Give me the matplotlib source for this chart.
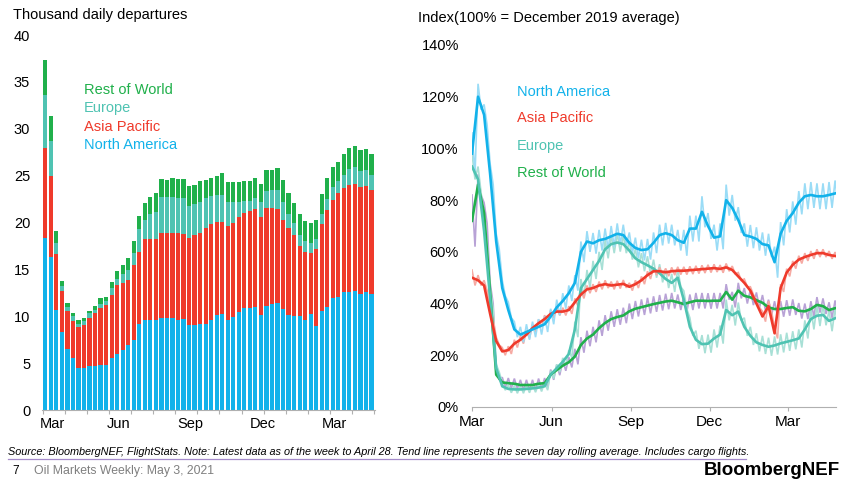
import matplotlib
matplotlib.use("Agg")
import matplotlib.pyplot as plt
import numpy as np
from matplotlib.lines import Line2D

plt.rcParams["font.family"] = ["Liberation Sans", "DejaVu Sans"]

NA_C, AP_C, EU_C, ROW_C = "#12b2ea", "#ef3a2b", "#4fc3b2", "#20b04b"
NA_RAW, AP_RAW, EU_RAW, ROW_RAW = "#9adcf6", "#f6aaa3", "#a8e0d6", "#b8a2d6"
AXIS_C = "#b0b0b0"

# ---- left panel: weekly departures, thousand per day (stacked) ----
na_dep = [18.3, 16.3, 10.7, 8.3, 6.5, 5.5, 4.5, 4.5, 4.7, 4.7,
          4.8, 4.8, 5.5, 6.0, 6.4, 6.9, 7.5, 9.2, 9.6, 9.6,
          9.6, 9.8, 9.8, 9.8, 9.65, 9.7, 9.1, 9.1, 9.2, 9.2,
          9.65, 10.1, 10.2, 9.6, 9.9, 10.5, 10.9, 10.9, 11.0, 10.1,
          11.1, 11.3, 11.4, 10.8, 10.1, 10.0, 10.0, 9.65, 10.2, 9.0,
          10.55, 11.0, 11.9, 12.1, 12.6, 12.6, 12.7, 12.4, 12.6, 12.4]
ap_dep = [9.7, 8.7, 5.9, 4.4, 4.1, 4.05, 4.4, 4.6, 5.1, 5.6,
          6.1, 6.4, 6.8, 7.3, 7.1, 7.0, 8.0, 7.7, 8.6, 8.6,
          8.6, 9.1, 9.1, 9.1, 9.25, 9.1, 9.2, 9.6, 9.7, 10.2,
          10.15, 10.0, 9.9, 10.0, 10.0, 10.05, 10.1, 10.3, 10.4, 10.5,
          10.4, 10.3, 10.0, 9.5, 9.3, 8.7, 7.5, 7.25, 6.5, 8.2,
          9.25, 10.3, 10.5, 11.1, 11.1, 11.4, 11.4, 11.4, 11.3, 11.1]
eu_dep = [5.6, 3.7, 1.2, 0.5, 0.4, 0.45, 0.3, 0.4, 0.5, 0.4,
          0.4, 0.4, 0.7, 0.7, 1.0, 1.0, 1.2, 2.4, 2.1, 2.7,
          2.9, 3.8, 3.8, 3.8, 3.7, 3.8, 3.5, 3.3, 3.3, 3.2,
          3.0, 2.8, 2.8, 2.6, 2.3, 1.65, 1.3, 1.1, 1.2, 1.6,
          1.9, 1.9, 2.1, 1.9, 1.5, 1.2, 1.2, 1.1, 1.1, 1.0,
          1.1, 1.2, 1.4, 1.2, 1.4, 1.7, 1.8, 1.75, 1.7, 1.6]
row_dep = [3.7, 2.7, 1.3, 0.6, 0.4, 0.3, 0.4, 0.3, 0.3, 0.4,
           0.6, 0.45, 0.7, 0.8, 1.0, 1.3, 1.3, 1.4, 1.8, 1.8,
           2.0, 1.9, 1.8, 2.1, 2.0, 2.0, 2.1, 2.0, 2.2, 1.95,
           2.0, 2.1, 2.4, 2.1, 2.1, 2.1, 2.1, 2.1, 2.1, 1.9,
           2.2, 2.1, 2.3, 2.35, 2.2, 2.15, 2.2, 2.2, 2.2, 2.1,
           2.15, 2.2, 2.1, 2.1, 2.2, 2.2, 2.3, 2.15, 2.2, 2.2]
dep_month_pos = [1.3, 13.2, 26.2, 39.3, 52.3]
month_lbl = ["Mar", "Jun", "Sep", "Dec", "Mar"]

# ---- right panel: index (100% = Dec 2019 avg), 7-day average, weekly ----
na_idx = [98, 120, 113, 90, 64, 46, 37.5, 30, 28, 29,
          30, 31, 32, 35, 38.5, 41, 44, 48, 60, 64,
          63.3, 64.5, 65, 66, 67, 66.5, 63.5, 61.5, 60.7, 61,
          63.5, 66.5, 67.2, 66.5, 64.5, 63.5, 69, 69, 75.5, 70,
          65.5, 66, 80, 77, 72.3, 66.5, 65.9, 65, 63, 62.5,
          56, 67, 72, 75, 79, 81.5, 82, 81.5, 81.5, 82, 82.6]
ap_idx = [50, 49, 47, 36, 25.5, 21.5, 22, 24.5, 26, 28,
          30.5, 32.4, 34, 36, 36.9, 36.9, 37.5, 40.5, 43.5, 45.5,
          46, 47, 47.5, 47, 47.3, 47.6, 46.5, 47.5, 49, 51,
          52.5, 52.5, 52.1, 52.5, 52.7, 52.7, 52.9, 53.1, 53.3, 53.5,
          53.7, 53.4, 54, 53, 50.5, 48, 45, 40, 35, 39,
          28.5, 46, 52, 55, 57, 58, 58.8, 59.5, 59.5, 58.8, 58.4]
eu_idx = [93, 88, 68, 42, 15, 8, 7, 6.8, 6.8, 7,
          7.2, 7.5, 8, 12.5, 15, 17.5, 20.5, 30, 46, 49.5,
          53, 56.5, 61, 63, 63.6, 63, 60.5, 57.5, 56, 54.8,
          53.5, 51.7, 49.5, 48, 50, 41.4, 31, 26, 24.3, 24.5,
          26.5, 28, 37.5, 35.5, 36.9, 31, 27.5, 25, 24, 23.3,
          23.8, 24.6, 25.2, 25.8, 26.5, 30, 34, 35.3, 35.6, 33.3, 34.3]
row_idx = [72, 86, 75, 44, 12.5, 9.5, 9.2, 9, 8.5, 8.5,
           8.5, 9, 9.2, 12.5, 14.3, 16, 17.3, 19.5, 24, 26.5,
           28, 30.5, 32.5, 34, 34.8, 35.4, 37, 38, 38.6, 39.2,
           39.8, 40.3, 40.8, 41.1, 40.5, 39.8, 40.5, 41.1, 41.1, 41,
           41.1, 41.1, 44.5, 41.5, 45, 43, 42.4, 41.3, 40.3, 38.5,
           37.9, 37.9, 38.3, 38.6, 37.2, 37, 37.9, 39.5, 39, 37.5, 38.2]
# half-range of the daily (weekday/weekend) swing around the average
na_swing = [8, 5, 4, 4, 3, 3, 3, 3, 3, 3,
            3, 3, 3, 3, 3, 3, 3, 3, 4, 4,
            4, 4, 4, 4, 4, 4, 4, 4, 4, 4,
            4, 4, 4, 4, 4, 5, 5, 5, 6, 5,
            5, 5, 6, 5, 5, 4.5, 4.5, 4.5, 4.5, 4.5,
            6, 4.5, 4.5, 4.5, 4.5, 5, 5, 5, 5, 5, 5]
ap_swing = [3, 2, 2, 2, 1.5, 1.5, 1.5, 1.5, 1.5, 1.5,
            1.5, 1.5, 1.5, 1.5, 1.5, 1.5, 1.5, 1.5, 1.5, 1.5,
            1.5, 1.5, 1.5, 1.5, 1.5, 1.5, 1.5, 1.5, 1.5, 1.5,
            1.5, 1.5, 1.5, 1.5, 1.5, 1.5, 1.5, 1.5, 1.5, 1.5,
            1.5, 1.5, 1.5, 1.5, 1.5, 1.5, 1.5, 1.5, 2, 2,
            2, 1.5, 1.5, 1.5, 1.5, 1.5, 1.5, 1.5, 1.5, 1.5, 1.5]
eu_swing = [5, 5, 4, 4, 1.5, 1.5, 1.5, 1.5, 1.5, 1.5,
            1.5, 1.5, 1.5, 1.5, 1.5, 1.5, 1.5, 3, 3.5, 3.5,
            3.5, 3.5, 3.5, 3.5, 3.5, 3.5, 3.5, 3.5, 3.5, 3.5,
            3.5, 3.5, 3.5, 3.5, 3.5, 3.5, 3.5, 3.5, 3.5, 3.5,
            3.5, 3.5, 4, 4, 3.5, 3.5, 3.5, 3.5, 3.5, 3.5,
            3.5, 3.5, 3.5, 3.5, 3.5, 3.5, 4, 4, 4, 4, 4]
row_swing = [10, 4, 4, 4, 2, 2, 2, 2, 2, 2,
             2, 2, 2, 2, 2, 2, 2, 3, 3, 3,
             3, 3, 3, 3, 3, 3, 3, 3, 3, 3,
             3, 3, 3, 3, 3, 3, 3, 3, 3, 3,
             3, 3, 3, 3, 3, 3, 3, 3, 3, 3,
             3, 3, 3, 3, 3, 3, 3, 3, 3, 3, 3]
idx_month_days = [0, 92, 184, 275, 365]

fig = plt.figure(figsize=(8.48, 4.87), dpi=100)

# ---------------- left panel ----------------
ax1 = fig.add_axes([0.0495, 0.158, 0.3925, 0.770])
x = np.arange(len(na_dep))
bottom = np.zeros(len(x))
for vals, col in [(na_dep, NA_C), (ap_dep, AP_C), (eu_dep, EU_C), (row_dep, ROW_C)]:
    ax1.bar(x, vals, width=0.76, bottom=bottom, color=col, linewidth=0)
    bottom += np.array(vals)
ax1.set_xlim(-0.6, len(x) - 0.4)
ax1.set_ylim(0, 40)
ax1.set_yticks(range(0, 41, 5))
ax1.set_xticks(dep_month_pos)
ax1.set_xticklabels(month_lbl)
ax1.set_xticks(np.arange(-0.5, len(x), 4), minor=True)
ax1.tick_params(axis="y", length=0, pad=8.5, labelsize=10.5)
ax1.tick_params(axis="x", which="major", length=0, pad=5, labelsize=10.5)
ax1.tick_params(axis="x", which="minor", length=3, color=AXIS_C, width=0.8)
for s in ["top", "right", "left"]:
    ax1.spines[s].set_visible(False)
ax1.spines["bottom"].set_color(AXIS_C)
ax1.spines["bottom"].set_linewidth(0.8)
for lbl, yv, col in [("Rest of World", 34.1, ROW_C), ("Europe", 32.2, EU_C),
                     ("Asia Pacific", 30.2, AP_C), ("North America", 28.3, NA_C)]:
    ax1.text(7, yv, lbl, color=col, fontsize=10.5, va="center", ha="left")
fig.text(0.015, 0.969, "Thousand daily departures", fontsize=10.5, va="center", ha="left")

# ---------------- right panel ----------------
ax2 = fig.add_axes([0.5566, 0.1643, 0.4292, 0.7433])
weeks = np.arange(len(na_idx))
days = weeks * 7
series = [(row_idx, row_swing, ROW_C, ROW_RAW), (eu_idx, eu_swing, EU_C, EU_RAW),
          (ap_idx, ap_swing, AP_C, AP_RAW), (na_idx, na_swing, NA_C, NA_RAW)]
for avg, sw, col, raw in series:
    avg = np.array(avg, dtype=float)
    sw = np.array(sw, dtype=float)
    rx = np.column_stack([days, days + 3.5]).ravel()
    ry = np.column_stack([avg + sw, avg - sw]).ravel()
    ax2.plot(rx, ry, color=raw, lw=1.2, solid_joinstyle="miter")
for avg, sw, col, raw in series:
    ax2.plot(days, avg, color=col, lw=1.9)
ax2.set_xlim(0, 421)
ax2.set_ylim(0, 140)
ax2.set_yticks(range(0, 141, 20))
ax2.set_yticklabels([f"{v}%" for v in range(0, 141, 20)])
ax2.set_xticks(idx_month_days)
ax2.set_xticklabels(month_lbl)
ax2.tick_params(axis="y", length=0, pad=9.5, labelsize=10.5)
ax2.tick_params(axis="x", length=3, color=AXIS_C, width=0.8, pad=3, labelsize=11)
for s in ["top", "right", "left"]:
    ax2.spines[s].set_visible(False)
ax2.spines["bottom"].set_color(AXIS_C)
ax2.spines["bottom"].set_linewidth(0.8)
for lbl, yv, col in [("North America", 121.8, NA_C), ("Asia Pacific", 111.8, AP_C),
                     ("Europe", 100.9, EU_C), ("Rest of World", 90.5, ROW_C)]:
    ax2.text(52, yv, lbl, color=col, fontsize=10.5, va="center", ha="left")
fig.text(0.493, 0.963, "Index(100% = December 2019 average)", fontsize=10.5,
         va="center", ha="left")

# ---------------- footer ----------------
fig.text(0.009, 0.072,
         "Source: BloombergNEF, FlightStats. Note: Latest data as of the week to April 28. "
         "Tend line represents the seven day rolling average. Includes cargo flights.",
         fontsize=7.8, style="italic", va="center", ha="left")
fig.add_artist(Line2D([0.009, 0.88], [0.057, 0.057], color="#a58bcb", lw=0.9))
fig.text(0.015, 0.033, "7", fontsize=8.5, va="center", ha="left")
fig.text(0.04, 0.033, "Oil Markets Weekly: May 3, 2021", fontsize=8.8, color="#7f7f7f",
         va="center", ha="left")
fig.text(0.991, 0.033, "BloombergNEF", fontsize=13.5, weight="bold", va="center", ha="right")

fig.savefig("out.png", dpi=100)
